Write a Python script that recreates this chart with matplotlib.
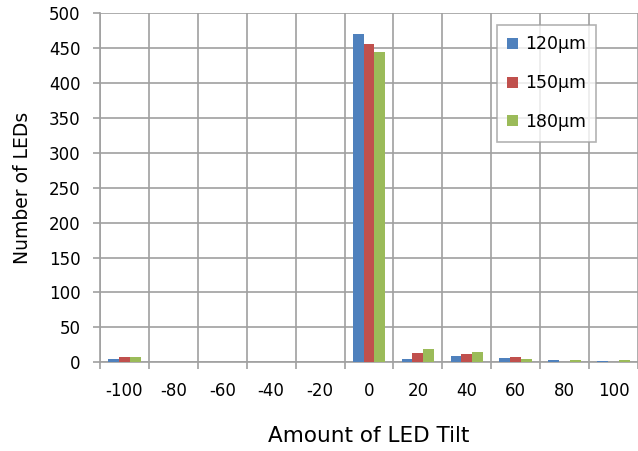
import numpy as np
import matplotlib
matplotlib.use('Agg')
import matplotlib.pyplot as plt
from matplotlib.ticker import MultipleLocator, FixedLocator

# amount of tilt categories and counts per LED size
tilt = ['-100', '-80', '-60', '-40', '-20', '0', '20', '40', '60', '80', '100']
led_120 = [5, 0, 0, 0, 0, 470, 5, 9, 6, 3, 2]
led_150 = [7, 0, 0, 0, 0, 455, 13, 12, 7, 0, 0]
led_180 = [7, 0, 0, 0, 0, 444, 19, 15, 5, 4, 3]

series = [('120\u03bcm', led_120, '#4F81BD'),
          ('150\u03bcm', led_150, '#C0504D'),
          ('180\u03bcm', led_180, '#9BBB59')]

plt.rcParams['font.family'] = ['DejaVu Sans']
gridcol = '#A0A0A0'

fig = plt.figure(figsize=(6.38, 4.51), dpi=100)
ax = fig.add_axes([100/638, 88.7/451, 538/638, 349.3/451])

x = np.arange(len(tilt))
w = 1.0/4.5
for i, (lab, vals, col) in enumerate(series):
    ax.bar(x + (i-1)*w, vals, width=w, color=col, label=lab, zorder=3, linewidth=0)

ax.set_xlim(-0.5, len(tilt)-0.5)
ax.set_ylim(0, 500)
ax.yaxis.set_major_locator(MultipleLocator(50))
ax.set_xticks(x)
ax.set_xticklabels(tilt)
ax.xaxis.set_minor_locator(FixedLocator(np.arange(-0.5, len(tilt), 1.0)))
ax.tick_params(axis='x', which='major', length=0, pad=14, labelsize=12)
ax.tick_params(axis='x', which='minor', length=5, width=1.2, color=gridcol)
ax.tick_params(axis='y', length=5, width=1.2, color=gridcol, labelsize=12, pad=9)

ax.grid(True, which='minor', axis='x', color=gridcol, lw=1.2, zorder=0)
ax.grid(True, which='major', axis='y', color=gridcol, lw=1.2, zorder=0)
for s in ['top', 'right']:
    ax.spines[s].set_visible(False)
for s in ['left', 'bottom']:
    ax.spines[s].set_color(gridcol)
    ax.spines[s].set_linewidth(1.2)

ax.set_ylabel('Number of LEDs', fontsize=13.5, labelpad=12)
ax.set_xlabel('Amount of LED Tilt', fontsize=15.5, labelpad=19)

leg = ax.legend(loc='upper left', bbox_to_anchor=(497/638, 426/451), bbox_transform=fig.transFigure,
                fontsize=12.5, frameon=True, fancybox=False, edgecolor=gridcol,
                handlelength=0.6, handleheight=0.6, handletextpad=0.4,
                labelspacing=1.2, borderpad=0.6, borderaxespad=0)
leg.get_frame().set_linewidth(1.2)
leg.set_zorder(5)

fig.savefig('out.png', dpi=100)
